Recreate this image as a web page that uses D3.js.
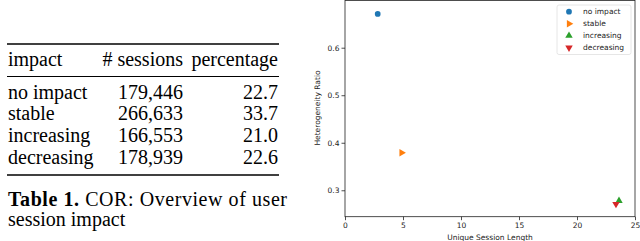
<!DOCTYPE html>
<html>
<head>
<meta charset="utf-8">
<script src="https://cdn.jsdelivr.net/npm/d3@7"></script>
<style>
  body { margin: 0; background: #fff; }
  svg { display: block; }
</style>
</head>
<body>
<svg id="chart" width="640" height="241"></svg>
<script>
// table data
const impacts = ["no impact", "stable", "increasing", "decreasing"];
const sessions = ["179,446", "266,633", "166,553", "178,939"];
const percentages = ["22.7", "33.7", "21.0", "22.6"];

// scatter data
const sessionLength = [2.82, 4.88, 23.62, 23.36];
const heteroRatio = [0.671, 0.379, 0.278, 0.271];
const colors = ["#1f77b4", "#ff7f0e", "#2ca02c", "#d62728"];
const xTicks = [0, 5, 10, 15, 20, 25];
const yTicks = [0.3, 0.4, 0.5, 0.6];

const svg = d3.select("#chart");

// ---- table ----
const tbl = svg.append("g")
  .attr("font-family", "'Liberation Serif', serif")
  .attr("font-size", 20)
  .attr("fill", "#000");

const rule = (y, w) => tbl.append("line")
  .attr("x1", 7).attr("x2", 279)
  .attr("y1", y).attr("y2", y)
  .attr("stroke", "#000").attr("stroke-width", w);

rule(44, 1.6);
rule(76.5, 1);
rule(175, 1.6);

tbl.append("text").attr("x", 8).attr("y", 66).text("impact");
tbl.append("text").attr("x", 183).attr("y", 66).attr("text-anchor", "end").text("# sessions");
tbl.append("text").attr("x", 278).attr("y", 66).attr("text-anchor", "end").text("percentage");

const rowY = d3.scalePoint().domain(impacts).range([98.5, 164]);

const rows = tbl.selectAll(".row")
  .data(impacts)
  .join("g")
  .attr("class", "row")
  .attr("transform", (d) => `translate(0,${rowY(d)})`);

rows.append("text").attr("x", 8).text((d) => d);
rows.append("text").attr("x", 183).attr("text-anchor", "end").text((d, i) => sessions[i]);
rows.append("text").attr("x", 278).attr("text-anchor", "end").text((d, i) => percentages[i]);

const cap = svg.append("g")
  .attr("font-family", "'Liberation Serif', serif")
  .attr("font-size", 20);
const line1 = cap.append("text").attr("x", 8).attr("y", 206)
  .attr("textLength", 279).attr("lengthAdjust", "spacing");
line1.append("tspan").attr("font-weight", "bold").text("Table 1.");
line1.append("tspan").text(" COR: Overview of user");
cap.append("text").attr("x", 8).attr("y", 226).text("session impact");

// ---- scatter ----
const x = d3.scaleLinear().domain([0, 25]).range([345, 635]);
const y = d3.scaleLinear().domain([0.2444, 0.7004]).range([216.7, 0]);

const gx = svg.append("g")
  .attr("transform", "translate(0,216.7)")
  .call(d3.axisBottom(x).tickValues(xTicks).tickSize(3.5).tickPadding(2));
const gy = svg.append("g")
  .attr("transform", "translate(345,0)")
  .call(d3.axisLeft(y).tickValues(yTicks).tickFormat(d3.format(".1f")).tickSize(3.5).tickPadding(2));

[gx, gy].forEach((g) => {
  g.select(".domain").remove();
  g.selectAll("text").attr("font-family", "'DejaVu Sans', sans-serif").attr("font-size", 7.5).attr("fill", "#222");
  g.selectAll("line").attr("stroke", "#222").attr("stroke-width", 0.8);
});

svg.append("rect")
  .attr("x", 345).attr("y", 0.5)
  .attr("width", 290).attr("height", 216.2)
  .attr("fill", "none").attr("stroke", "#222").attr("stroke-width", 0.8);

const symbols = [
  d3.symbol().type(d3.symbolCircle).size(26),
  d3.symbol().type(d3.symbolTriangle).size(24),
  d3.symbol().type(d3.symbolTriangle).size(24),
  d3.symbol().type(d3.symbolTriangle).size(24)
];
const rotations = [0, 90, 0, 180];

svg.append("g")
  .selectAll("path")
  .data(impacts)
  .join("path")
  .attr("d", (d, i) => symbols[i]())
  .attr("fill", (d, i) => colors[i])
  .attr("transform", (d, i) => `translate(${x(sessionLength[i])},${y(heteroRatio[i])}) rotate(${rotations[i]})`);

svg.append("text")
  .attr("x", 490).attr("y", 239.5)
  .attr("text-anchor", "middle")
  .attr("font-family", "'DejaVu Sans', sans-serif")
  .attr("font-size", 7.5).attr("fill", "#222")
  .text("Unique Session Length");

svg.append("text")
  .attr("transform", "translate(319.5,108) rotate(-90)")
  .attr("text-anchor", "middle")
  .attr("font-family", "'DejaVu Sans', sans-serif")
  .attr("font-size", 7.5).attr("fill", "#222")
  .text("Heterogeneity Ratio");

// legend
const leg = svg.append("g");
leg.append("rect")
  .attr("x", 557).attr("y", 5)
  .attr("width", 74).attr("height", 49.5)
  .attr("rx", 2)
  .attr("fill", "#fff").attr("stroke", "#e0e0e0").attr("stroke-width", 0.8);

const legY = d3.scalePoint().domain(impacts).range([11.7, 47.7]);
const items = leg.selectAll(".item")
  .data(impacts)
  .join("g")
  .attr("class", "item")
  .attr("transform", (d) => `translate(569,${legY(d)})`);
items.append("path")
  .attr("d", (d, i) => symbols[i]())
  .attr("fill", (d, i) => colors[i])
  .attr("transform", (d, i) => `rotate(${rotations[i]})`);
items.append("text")
  .attr("x", 14).attr("y", 2.6)
  .attr("font-family", "'DejaVu Sans', sans-serif")
  .attr("font-size", 7.5).attr("fill", "#222")
  .text((d) => d);
</script>
</body>
</html>
